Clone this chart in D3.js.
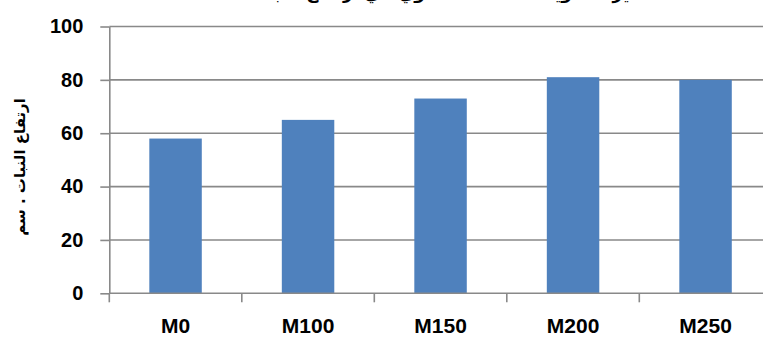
<!DOCTYPE html>
<html>
<head>
<meta charset="utf-8">
<script src="https://cdn.jsdelivr.net/npm/d3@7"></script>
<style>
  html, body { margin: 0; padding: 0; background: #fff; }
  svg { display: block; }
</style>
</head>
<body>
<svg id="chart" width="763" height="338"></svg>
<script>
const categories = ["M0", "M100", "M150", "M200", "M250"];
const values = [58, 65, 73, 81, 80];
const yTicks = [0, 20, 40, 60, 80, 100];
const yTitle = "ارتفاع النبات . سم";
const chartTitle = "تأثير مستويات السماد العضوي في ارتفاع النبات";

(function () {
const svg = d3.select("#chart");
const W = 763, H = 338;
const pLeft = 109.3, pRight = 771.8, pTop = 26.5, pBottom = 293.3;

const x = d3.scaleBand().domain(categories).range([pLeft, pRight])
  .paddingInner(0.604).paddingOuter(0.302);
const y = d3.scaleLinear().domain([0, 100]).range([pBottom, pTop]);

svg.append("rect").attr("width", W).attr("height", H).attr("fill", "#fff");

// title, mostly above the top edge as in the reference
svg.append("text")
  .attr("x", 450).attr("y", -1)
  .attr("text-anchor", "middle")
  .attr("direction", "rtl")
  .style("font-family", "'DejaVu Sans', sans-serif")
  .style("font-weight", "bold")
  .style("font-size", "17px")
  .attr("fill", "#000")
  .text(chartTitle);

// gridlines
svg.append("g").selectAll("line").data(yTicks.filter(d => d > 0)).join("line")
  .attr("x1", pLeft).attr("x2", W)
  .attr("y1", d => y(d)).attr("y2", d => y(d))
  .attr("stroke", "#898989").attr("stroke-width", 1.6);

// bars
svg.append("g").selectAll("rect").data(categories).join("rect")
  .attr("x", d => x(d))
  .attr("width", x.bandwidth())
  .attr("y", (d, i) => y(values[i]))
  .attr("height", (d, i) => y(0) - y(values[i]))
  .attr("fill", "#4F81BD");

// y axis
const yAxis = d3.axisLeft(y).tickValues(yTicks).tickSize(9).tickSizeOuter(0).tickPadding(17);
const gy = svg.append("g").attr("transform", `translate(${pLeft},0)`).call(yAxis);
gy.select(".domain").attr("stroke", "#898989").attr("stroke-width", 1.6);
gy.selectAll(".tick line").attr("stroke", "#898989").attr("stroke-width", 1.6);
gy.selectAll(".tick text")
  .style("font-family", "'Liberation Sans', Arial, sans-serif")
  .style("font-weight", "bold")
  .style("font-size", "20px")
  .attr("fill", "#000");

// x axis
const xAxisG = svg.append("g").attr("transform", `translate(0,${pBottom})`);
xAxisG.append("line").attr("x1", pLeft).attr("x2", W).attr("y1", 0).attr("y2", 0)
  .attr("stroke", "#898989").attr("stroke-width", 1.6);
xAxisG.selectAll("line.tk").data(categories).join("line").attr("class", "tk")
  .attr("x1", d => x(d) + x.bandwidth() / 2 - x.step() / 2)
  .attr("x2", d => x(d) + x.bandwidth() / 2 - x.step() / 2)
  .attr("y1", 0).attr("y2", 9)
  .attr("stroke", "#898989").attr("stroke-width", 1.6);
xAxisG.selectAll("text").data(categories).join("text")
  .attr("x", d => x(d) + x.bandwidth() / 2)
  .attr("y", 40)
  .attr("text-anchor", "middle")
  .style("font-family", "'Liberation Sans', Arial, sans-serif")
  .style("font-weight", "bold")
  .style("font-size", "21px")
  .attr("fill", "#000")
  .text(d => d);

// y title
svg.append("text")
  .attr("transform", "translate(25,167) rotate(-90)")
  .attr("text-anchor", "middle")
  .attr("direction", "rtl")
  .style("font-family", "'DejaVu Sans', sans-serif")
  .style("font-weight", "bold")
  .style("font-size", "15px")
  .attr("fill", "#000")
  .text(yTitle);
})();
</script>
</body>
</html>
